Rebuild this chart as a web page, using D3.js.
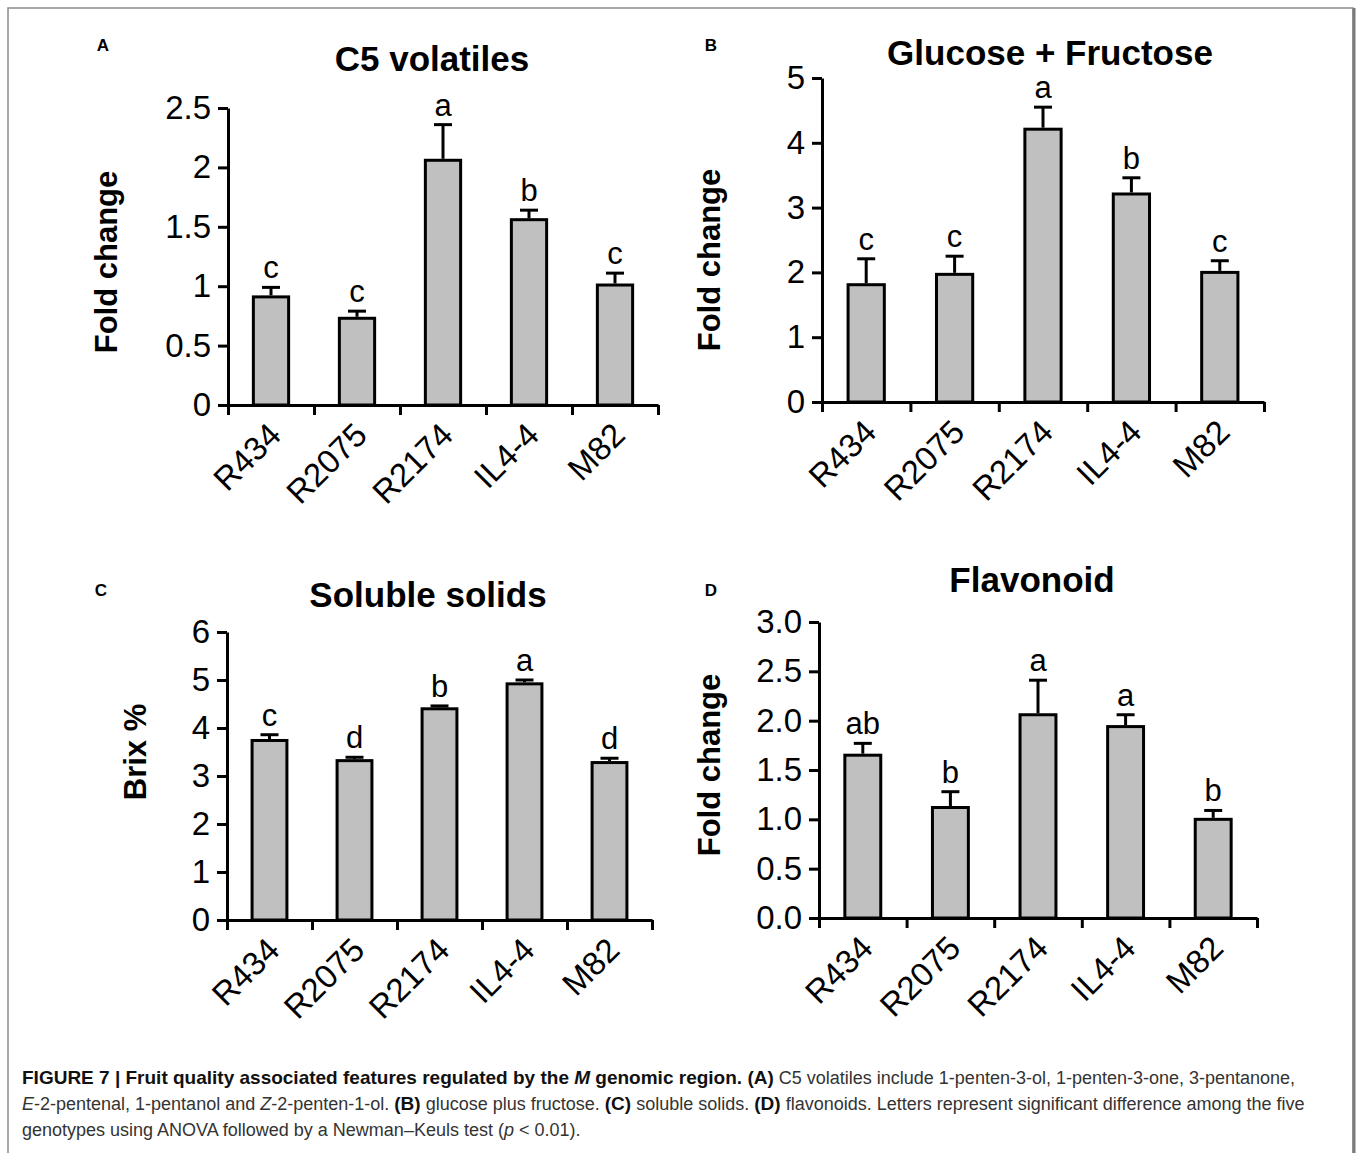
<!DOCTYPE html>
<html>
<head>
<meta charset="utf-8">
<script src="https://cdn.jsdelivr.net/npm/d3@7"></script>
<style>
  body { margin: 0; background: #fff; }
  text { font-family: "Liberation Sans", Arial, sans-serif; }
</style>
</head>
<body>
<svg id="fig" width="1358" height="1153"></svg>
<script>
// genotypes on every x axis
var genotypes = ['R434', 'R2075', 'R2174', 'IL4-4', 'M82'];

// A - C5 volatiles
var c5Means = [0.91, 0.73, 2.06, 1.56, 1.01];
var c5Errors = [0.08, 0.06, 0.30, 0.08, 0.10];
var c5Letters = ['c', 'c', 'a', 'b', 'c'];
var c5TickValues = [0, 0.5, 1, 1.5, 2, 2.5];
var c5TickLabels = ['0', '0.5', '1', '1.5', '2', '2.5'];

// B - glucose + fructose
var sugarMeans = [1.81, 1.97, 4.21, 3.21, 2.00];
var sugarErrors = [0.40, 0.28, 0.34, 0.25, 0.18];
var sugarLetters = ['c', 'c', 'a', 'b', 'c'];
var sugarTickValues = [0, 1, 2, 3, 4, 5];
var sugarTickLabels = ['0', '1', '2', '3', '4', '5'];

// C - soluble solids
var brixMeans = [3.74, 3.32, 4.40, 4.92, 3.28];
var brixErrors = [0.12, 0.07, 0.06, 0.08, 0.09];
var brixLetters = ['c', 'd', 'b', 'a', 'd'];
var brixTickValues = [0, 1, 2, 3, 4, 5, 6];
var brixTickLabels = ['0', '1', '2', '3', '4', '5', '6'];

// D - flavonoid
var flavMeans = [1.65, 1.12, 2.06, 1.94, 1.00];
var flavErrors = [0.12, 0.16, 0.35, 0.12, 0.09];
var flavLetters = ['ab', 'b', 'a', 'a', 'b'];
var flavTickValues = [0, 0.5, 1, 1.5, 2, 2.5, 3];
var flavTickLabels = ['0.0', '0.5', '1.0', '1.5', '2.0', '2.5', '3.0'];

var svg = d3.select('#fig');

// frame round the figure
svg.append('rect')
    .attr('x', 8).attr('y', 8)
    .attr('width', 1345).attr('height', 1170)
    .attr('fill', 'none')
    .attr('stroke', '#8a8a8a')
    .attr('stroke-width', 1.5);
svg.append('line')
    .attr('x1', 1354).attr('x2', 1354)
    .attr('y1', 8).attr('y2', 1153)
    .attr('stroke', '#7a7a7a')
    .attr('stroke-width', 3);

var panels = [
  { letter: 'A', title: 'C5 volatiles', yLabel: 'Fold change',
    means: c5Means, errors: c5Errors, letters: c5Letters,
    tickValues: c5TickValues, tickLabels: c5TickLabels,
    x0: 228, x1: 658, yBase: 405, yTop: 108,
    letterPos: [103, 51], titlePos: [432, 71], yLabelPos: [117, 262] },
  { letter: 'B', title: 'Glucose + Fructose', yLabel: 'Fold change',
    means: sugarMeans, errors: sugarErrors, letters: sugarLetters,
    tickValues: sugarTickValues, tickLabels: sugarTickLabels,
    x0: 822, x1: 1264, yBase: 402, yTop: 78,
    letterPos: [711, 51], titlePos: [1050, 65], yLabelPos: [720, 260] },
  { letter: 'C', title: 'Soluble solids', yLabel: 'Brix %',
    means: brixMeans, errors: brixErrors, letters: brixLetters,
    tickValues: brixTickValues, tickLabels: brixTickLabels,
    x0: 227, x1: 652, yBase: 920, yTop: 632,
    letterPos: [101, 596], titlePos: [428, 607], yLabelPos: [146, 752] },
  { letter: 'D', title: 'Flavonoid', yLabel: 'Fold change',
    means: flavMeans, errors: flavErrors, letters: flavLetters,
    tickValues: flavTickValues, tickLabels: flavTickLabels,
    x0: 819, x1: 1257, yBase: 918, yTop: 622,
    letterPos: [711, 596], titlePos: [1032, 592], yLabelPos: [720, 765] }
];

panels.forEach(drawPanel);

function drawPanel(p) {
  var g = svg.append('g');
  var n = p.tickValues.length - 1;

  var y = d3.scaleLinear()
      .domain([p.tickValues[0], p.tickValues[n]])
      .range([p.yBase, p.yTop]);
  var x = d3.scaleBand()
      .domain(genotypes)
      .range([p.x0, p.x1])
      .paddingInner(0.59)
      .paddingOuter(0.295);
  // boundaries between categories, for the x tick marks
  var xEdge = d3.scaleLinear()
      .domain([0, genotypes.length])
      .range([p.x0, p.x1]);

  // bars
  g.selectAll('rect.bar')
      .data(p.means)
      .enter().append('rect')
      .attr('class', 'bar')
      .attr('x', function(d, i) { return x(genotypes[i]); })
      .attr('width', x.bandwidth())
      .attr('y', function(d) { return y(d); })
      .attr('height', function(d) { return p.yBase - y(d); })
      .attr('fill', '#c0c0c0')
      .attr('stroke', '#000')
      .attr('stroke-width', 3);

  // upper error bars only
  var cx = function(i) { return x(genotypes[i]) + x.bandwidth() / 2; };
  g.selectAll('line.err')
      .data(p.means)
      .enter().append('line')
      .attr('class', 'err')
      .attr('x1', function(d, i) { return cx(i); })
      .attr('x2', function(d, i) { return cx(i); })
      .attr('y1', function(d) { return y(d) - 1.5; })
      .attr('y2', function(d, i) { return y(d + p.errors[i]); })
      .attr('stroke', '#000')
      .attr('stroke-width', 3);
  g.selectAll('line.cap')
      .data(p.means)
      .enter().append('line')
      .attr('class', 'cap')
      .attr('x1', function(d, i) { return cx(i) - 9; })
      .attr('x2', function(d, i) { return cx(i) + 9; })
      .attr('y1', function(d, i) { return y(d + p.errors[i]); })
      .attr('y2', function(d, i) { return y(d + p.errors[i]); })
      .attr('stroke', '#000')
      .attr('stroke-width', 3);

  // significance letters
  g.selectAll('text.sig')
      .data(p.letters)
      .enter().append('text')
      .attr('class', 'sig')
      .attr('x', function(d, i) { return cx(i); })
      .attr('y', function(d, i) { return y(p.means[i] + p.errors[i]) - 9; })
      .attr('text-anchor', 'middle')
      .style('font-size', '31px')
      .text(function(d) { return d; });

  // y axis
  var yAxis = g.append('g')
      .attr('transform', 'translate(' + p.x0 + ',0)')
      .call(d3.axisLeft(y)
        .tickValues(p.tickValues)
        .tickFormat(function(d, i) { return p.tickLabels[i]; })
        .tickSizeInner(10)
        .tickSizeOuter(0)
        .tickPadding(7));
  yAxis.selectAll('text')
      .style('font-size', '33px')
      .style('font-family', '"Liberation Sans", Arial, sans-serif')
      .attr('fill', '#000');

  // x axis, ticks between the categories
  g.append('g')
      .attr('transform', 'translate(0,' + p.yBase + ')')
      .call(d3.axisBottom(xEdge)
        .tickValues(d3.range(genotypes.length + 1))
        .tickFormat('')
        .tickSizeInner(10)
        .tickSizeOuter(0));

  g.selectAll('.domain, .tick line')
      .attr('stroke', '#000')
      .attr('stroke-width', 3);

  // rotated category labels
  g.selectAll('text.cat')
      .data(genotypes)
      .enter().append('text')
      .attr('class', 'cat')
      .attr('text-anchor', 'end')
      .attr('transform', function(d, i) {
        return 'translate(' + (cx(i) + 12) + ',' + (p.yBase + 32) + ') rotate(-45)';
      })
      .style('font-size', '33px')
      .text(function(d) { return d; });

  // titles
  g.append('text')
      .attr('x', p.titlePos[0]).attr('y', p.titlePos[1])
      .attr('text-anchor', 'middle')
      .style('font-size', '35px')
      .style('font-weight', 'bold')
      .text(p.title);
  g.append('text')
      .attr('x', p.letterPos[0]).attr('y', p.letterPos[1])
      .attr('text-anchor', 'middle')
      .style('font-size', '17px')
      .style('font-weight', 'bold')
      .text(p.letter);
  g.append('text')
      .attr('transform', 'translate(' + p.yLabelPos[0] + ',' + p.yLabelPos[1] + ') rotate(-90)')
      .attr('text-anchor', 'middle')
      .style('font-size', '31px')
      .style('font-weight', 'bold')
      .text(p.yLabel);
}

// caption
var caption = [
  [['FIGURE 7 | Fruit quality associated features regulated by the ', 'b'], ['M', 'bi'],
   [' genomic region. ', 'b'], ['(A)', 'b'],
   [' C5 volatiles include 1-penten-3-ol, 1-penten-3-one, 3-pentanone,', '']],
  [['E', 'i'], ['-2-pentenal, 1-pentanol and ', ''], ['Z', 'i'], ['-2-penten-1-ol. ', ''],
   ['(B)', 'b'], [' glucose plus fructose. ', ''], ['(C)', 'b'], [' soluble solids. ', ''],
   ['(D)', 'b'], [' flavonoids. Letters represent significant difference among the five', '']],
  [['genotypes using ANOVA followed by a Newman\u2013Keuls test (', ''], ['p', 'i'], [' < 0.01).', '']]
];

caption.forEach(function(line, k) {
  var t = svg.append('text')
      .attr('x', 22)
      .attr('y', 1084 + k * 26)
      .attr('fill', '#333')
      .style('font-size', '18px')
      .attr('xml:space', 'preserve');
  line.forEach(function(part) {
    var bold = part[1].indexOf('b') >= 0;
    t.append('tspan')
        .style('font-weight', bold ? 'bold' : 'normal')
        .style('font-style', part[1].indexOf('i') >= 0 ? 'italic' : 'normal')
        .style('font-size', bold ? '19px' : '18px')
        .attr('fill', bold ? '#111' : '#333')
        .text(part[0]);
  });
});
</script>
</body>
</html>
